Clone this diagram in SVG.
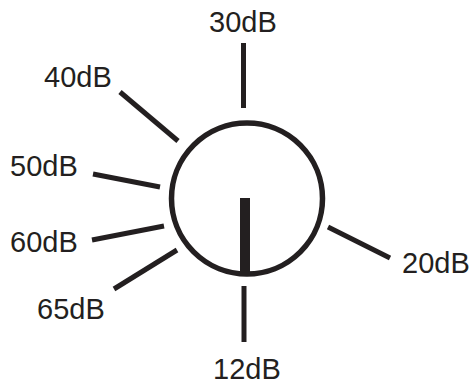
<svg xmlns="http://www.w3.org/2000/svg" width="473" height="385" viewBox="0 0 473 385">
<style>
.t{font-family:"Liberation Sans",Arial,sans-serif;font-size:29px;fill:#231f20}
.l{stroke:#231f20;stroke-width:5;fill:none}
</style>
<rect width="473" height="385" fill="#fff"/>
<g id="knob">
<circle cx="247" cy="198.5" r="75.5" fill="none" stroke="#231f20" stroke-width="5.5"/>
<rect x="240" y="198" width="10" height="74" fill="#231f20"/>
</g>
<g id="connectors">
<line class="l" x1="243.5" y1="43" x2="243.5" y2="108"/>
<line class="l" x1="244" y1="286" x2="244" y2="342"/>
<line class="l" x1="120" y1="92" x2="178" y2="141"/>
<line class="l" x1="93" y1="174" x2="160" y2="187"/>
<line class="l" x1="92" y1="240" x2="164" y2="226"/>
<line class="l" x1="114" y1="289" x2="177" y2="250"/>
<line class="l" x1="328" y1="227" x2="390" y2="258"/>
</g>
<g id="label-30"><text class="t" x="209" y="32">30dB</text></g>
<g id="label-12"><text class="t" x="213" y="379">12dB</text></g>
<g id="label-40"><text class="t" x="44" y="87">40dB</text></g>
<g id="label-50"><text class="t" x="10" y="176">50dB</text></g>
<g id="label-60"><text class="t" x="10" y="252">60dB</text></g>
<g id="label-65"><text class="t" x="37" y="319">65dB</text></g>
<g id="label-20"><text class="t" x="402" y="273">20dB</text></g>
</svg>
